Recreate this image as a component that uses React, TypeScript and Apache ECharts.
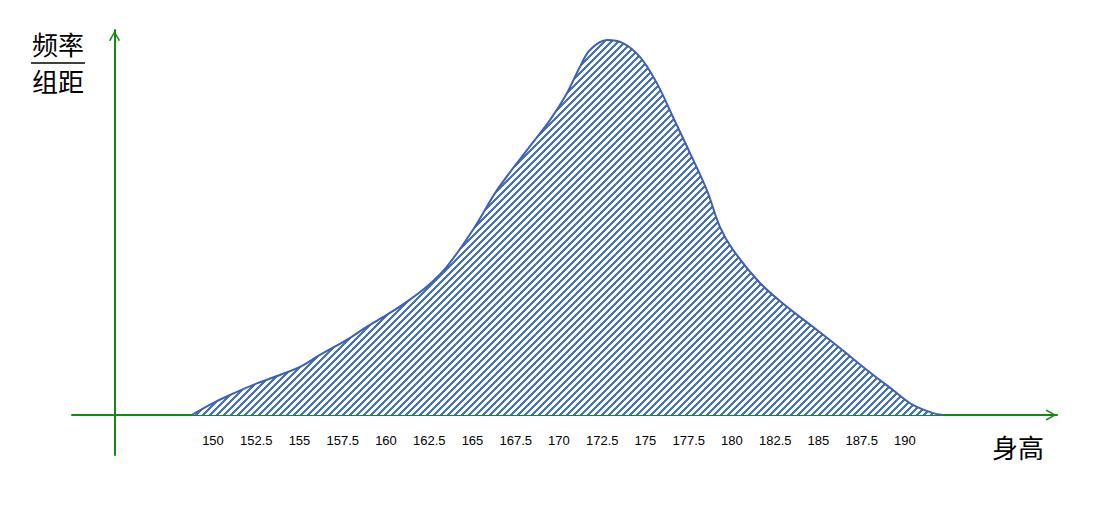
import React, { useEffect, useRef } from "react";
import * as echarts from "echarts";

// 身高 (cm) sample points of the frequency-distribution curve
const heights = [
  148.77, 149.92, 150.98, 152.53, 153.87, 155.03, 156.18, 157.73, 158.88, 160.04,
  161.2, 162.35, 163.51, 165.03, 166.42, 168.15, 169.48, 170.46, 171.21, 171.79,
  172.77, 173.7, 174.68, 175.66, 176.59, 177.57, 178.55, 179.31, 180.06, 181.62,
  183.18, 184.68, 186.24, 187.8, 189.31, 190.46, 191.62, 192.2,
];
// 频率/组距 values at those heights
const density = [
  0, 0.0029, 0.0052, 0.0082, 0.0104, 0.0125, 0.0156, 0.0195, 0.0229, 0.026,
  0.0294, 0.0333, 0.0385, 0.0481, 0.0584, 0.0688, 0.0766, 0.0836, 0.0904, 0.0948,
  0.0974, 0.0966, 0.093, 0.0862, 0.0774, 0.0681, 0.0584, 0.0488, 0.0429, 0.0343,
  0.0281, 0.0229, 0.0174, 0.0117, 0.0065, 0.0026, 0.0005, 0,
];
const tickValues = [
  150, 152.5, 155, 157.5, 160, 162.5, 165, 167.5, 170, 172.5, 175, 177.5, 180,
  182.5, 185, 187.5, 190,
];
const yTitleTop = "频率";
const yTitleBottom = "组距";
const xTitle = "身高";

const X_MIN = 141.85;
const X_MAX = 198.79;
const Y_MIN = 0;
const Y_MAX = 0.1;

const AXIS_COLOR = "#138A13";
const HATCH_BLUE = [68, 114, 196];
const ARROW = "path://M6,0 L12,10.5 L10.6,11.6 L6,3 L1.4,11.6 L0,10.5 Z";

function makeHatch(): string {
  const size = 7;
  const c = document.createElement("canvas");
  c.width = size;
  c.height = size;
  const ctx = c.getContext("2d")!;
  const img = ctx.createImageData(size, size);
  for (let y = 0; y < size; y++) {
    for (let x = 0; x < size; x++) {
      const d = (x + y) % size;
      const i = (y * size + x) * 4;
      const blue = d < 3;
      img.data[i] = blue ? HATCH_BLUE[0] : 255;
      img.data[i + 1] = blue ? HATCH_BLUE[1] : 255;
      img.data[i + 2] = blue ? HATCH_BLUE[2] : 255;
      img.data[i + 3] = 255;
    }
  }
  ctx.putImageData(img, 0, 0);
  return c.toDataURL();
}

export default function App() {
  const ref = useRef<HTMLDivElement>(null);

  useEffect(() => {
    if (!ref.current) return;
    const chart = echarts.init(ref.current, null, { renderer: "svg" });
    const hatch = makeHatch();
    const data = heights.map((h, i) => [h, density[i]]);

    chart.setOption({
      animation: false,
      backgroundColor: "#ffffff",
      grid: [
        { left: 72, right: 57, top: 30, bottom: 110 },
        { left: 114.5, width: 1, top: 30, bottom: 70 },
      ],
      xAxis: [
        {
          type: "value",
          gridIndex: 0,
          min: X_MIN,
          max: X_MAX,
          splitLine: { show: false },
          axisTick: { show: false },
          axisLine: {
            show: true,
            onZero: false,
            symbol: ["none", ARROW],
            symbolSize: [11, 12],
            symbolOffset: [0, -6],
            lineStyle: { color: AXIS_COLOR, width: 2 },
          },
          axisLabel: {
            customValues: tickValues,
            margin: 19,
            color: "#000",
            fontSize: 13,
            fontFamily: "Liberation Sans",
            formatter: (v: number) => String(v),
          },
        },
        { type: "value", gridIndex: 1, show: false, min: 0, max: 1 },
      ],
      yAxis: [
        { type: "value", gridIndex: 0, show: false, min: Y_MIN, max: Y_MAX },
        {
          type: "value",
          gridIndex: 1,
          min: 0,
          max: 1,
          splitLine: { show: false },
          axisTick: { show: false },
          axisLabel: { show: false },
          axisLine: {
            show: true,
            onZero: false,
            symbol: ["none", ARROW],
            symbolSize: [11, 12],
            symbolOffset: [0, -6],
            lineStyle: { color: AXIS_COLOR, width: 2 },
          },
        },
      ],
      series: [
        {
          type: "line",
          xAxisIndex: 0,
          yAxisIndex: 0,
          data,
          smooth: 0.35,
          symbol: "none",
          lineStyle: { color: "#3D60B4", width: 2 },
          areaStyle: {
            opacity: 1,
            color: { image: hatch, repeat: "repeat", imageWidth: 7, imageHeight: 7 },
          },
          z: 3,
        },
      ],
      graphic: [
        {
          type: "text",
          x: 58,
          y: 43,
          style: {
            text: yTitleTop,
            fontSize: 26,
            fontFamily: "Noto Sans CJK SC",
            fill: "#000",
            align: "center",
            verticalAlign: "middle",
          },
        },
        {
          type: "line",
          shape: { x1: 31, y1: 63, x2: 85, y2: 63 },
          style: { stroke: "#000", lineWidth: 1.5 },
        },
        {
          type: "text",
          x: 58,
          y: 80,
          style: {
            text: yTitleBottom,
            fontSize: 26,
            fontFamily: "Noto Sans CJK SC",
            fill: "#000",
            align: "center",
            verticalAlign: "middle",
          },
        },
        {
          type: "text",
          x: 1018,
          y: 446,
          style: {
            text: xTitle,
            fontSize: 26,
            fontFamily: "Noto Sans CJK SC",
            fill: "#000",
            align: "center",
            verticalAlign: "middle",
          },
        },
      ],
    });

    return () => chart.dispose();
  }, []);

  return (
    <div
      ref={ref}
      style={{ position: "absolute", left: 0, top: 0, width: 1114, height: 525 }}
    />
  );
}
